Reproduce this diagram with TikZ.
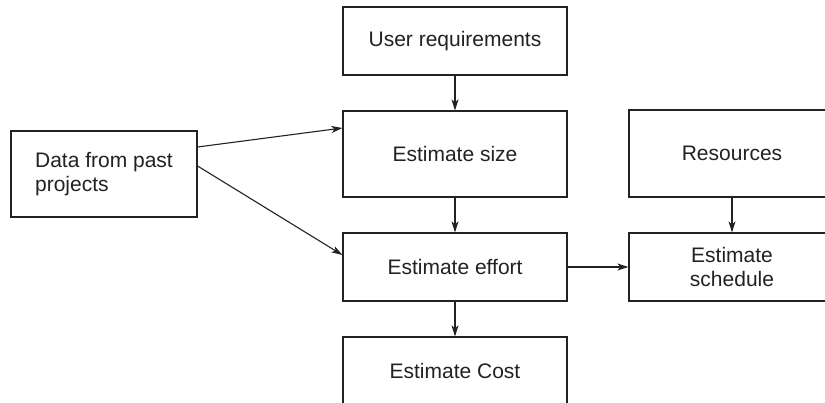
\documentclass[tikz,border=0pt]{standalone}
\usepackage{fontspec}
\setmainfont{Liberation Sans}
\usetikzlibrary{arrows.meta}
\definecolor{ink}{HTML}{222222}
\begin{document}
\begin{tikzpicture}[x=1pt,y=-1pt,
  box/.style={draw=ink, line width=1.2pt, text=ink, inner sep=0pt, align=center,
    font=\fontsize{21}{24}\selectfont},
  arr/.style={draw=ink, line width=1.1pt, -{Stealth[length=11pt,width=7pt,inset=3pt]}}]
\clip (0,0) rectangle (825,402);
\fill[white] (0,0) rectangle (825,402);
\node[box, minimum width=224pt, minimum height=68pt] (ureq) at (455,41) {User requirements};
\node[box, minimum width=224pt, minimum height=86pt] (size) at (455,154) {Estimate size};
\node[box, minimum width=224pt, minimum height=68pt] (effort) at (455,267) {Estimate effort};
\node[box, minimum width=224pt, minimum height=68pt] (cost) at (455,371) {Estimate Cost};
\node[box, minimum width=186pt, minimum height=86pt, align=left] (data) at (104,174) {Data from past\\projects};
\node[box, minimum width=206pt, minimum height=87pt] (res) at (732,153.5) {Resources};
\node[box, minimum width=206pt, minimum height=68pt] (sched) at (732,267) {Estimate\\schedule};
\draw[arr] (ureq) -- (size);
\draw[arr] (size) -- (effort);
\draw[arr] (effort) -- (cost);
\draw[arr] (res) -- (sched);
\draw[arr] (effort) -- (sched);
\draw[arr] ([yshift=27pt]data.east) -- ([yshift=26pt]size.west);
\draw[arr] ([yshift=8pt]data.east) -- ([yshift=12pt]effort.west);
\end{tikzpicture}
\end{document}
